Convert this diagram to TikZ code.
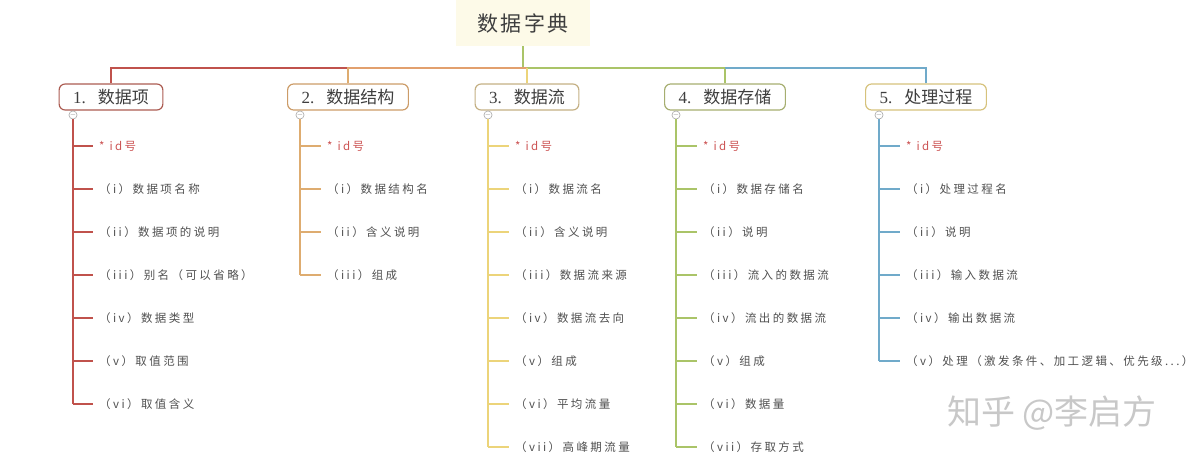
\documentclass[tikz,border=0pt]{standalone}
\usepackage{fontspec}
\setmainfont{Liberation Serif}
\newfontfamily\cjk{Noto Sans CJK SC}
\newfontfamily\cjkitem[LetterSpace=21]{Noto Sans CJK SC}
\newfontfamily\cjktitle[LetterSpace=12]{Noto Sans CJK SC}
\usepackage{tikz}
\usetikzlibrary{positioning}

\definecolor{RedLine}{RGB}{192,82,76}
\definecolor{OrangeLine}{RGB}{226,160,110}
\definecolor{TanLine}{RGB}{222,172,112}
\definecolor{YellowLine}{RGB}{236,212,122}
\definecolor{GreenLine}{RGB}{170,196,104}
\definecolor{BlueLine}{RGB}{112,170,202}
\definecolor{RootFill}{RGB}{253,250,232}
\definecolor{BoxRed}{RGB}{172,92,82}
\definecolor{BoxTan}{RGB}{204,156,104}
\definecolor{BoxSand}{RGB}{196,176,132}
\definecolor{BoxOlive}{RGB}{166,174,112}
\definecolor{BoxYellow}{RGB}{214,194,124}
\definecolor{ItemGray}{RGB}{80,80,80}
\definecolor{IdRed}{RGB}{204,84,84}
\definecolor{HeadGray}{RGB}{62,62,62}
\definecolor{MarkGray}{RGB}{200,200,200}

\begin{document}
\begin{tikzpicture}[x=1pt, y=-1pt]
			\tikzstyle{Root}	= [fill=RootFill, minimum width=134pt, minimum height=46pt, inner sep=0pt, text=HeadGray, font=\cjktitle\fontsize{21}{21}\selectfont]
			\tikzstyle{Head}	= [draw, fill=white, rounded corners=6pt, line width=1.2pt, minimum height=26pt, inner xsep=14pt, inner ysep=0pt, text=HeadGray, font=\fontsize{17}{17}\selectfont]
			\tikzstyle{Toggle}	= [circle, draw=gray!70, fill=white, line width=0.6pt, minimum size=8pt, inner sep=0pt, font=\fontsize{7}{7}\selectfont, text=gray]
			\tikzstyle{Item}	= [anchor=west, inner xsep=6pt, inner ysep=0pt, text=ItemGray, font=\cjkitem\fontsize{11.5}{11.5}\selectfont]
			\tikzstyle{ID}		= [Item, text=IdRed]
			\tikzstyle{Bus}		= [line width=2.6pt]
			\tikzstyle{Trunk}	= [line width=1.8pt]
			
			\useasboundingbox (0, 0) rectangle (1196, 464);
			
			% root and bus
			\node (root) at (523, 23) [Root] {数据字典};
			\coordinate (bus) at (0, 68);
			
			\node (b1) at (111, 97) [Head, draw=BoxRed] {1.\hspace{12pt}{\cjk 数据项}};
			\node (b2) at (348, 97) [Head, draw=BoxTan] {2.\hspace{12pt}{\cjk 数据结构}};
			\node (b3) at (527, 97) [Head, draw=BoxSand] {3.\hspace{12pt}{\cjk 数据流}};
			\node (b4) at (725, 97) [Head, draw=BoxOlive] {4.\hspace{12pt}{\cjk 数据存储}};
			\node (b5) at (926, 97) [Head, draw=BoxYellow] {5.\hspace{12pt}{\cjk 处理过程}};
			
			\draw [-] (root) to (root.south |- bus) [Bus][GreenLine];
			\draw [-] (b1) |- (b2.north |- bus) [Bus][RedLine];
			\draw [-] (b2) |- (b3.north |- bus) [Bus][OrangeLine];
			\draw [-] (b4) |- (b3.north |- bus) [Bus][GreenLine];
			\draw [-] (b5) |- (b4.north |- bus) [Bus][BlueLine];
			\draw [-] (b3) to (b3.north |- bus) [Bus][YellowLine];
			\draw [-] (b2) to (b2.north |- bus) [Bus][TanLine];
			
			% 1. data item
			\node (c1) at (73, 115) [Toggle] {$-$};
			\node (i1a) at (93, 146) [ID] {* id号};
			\node (i1b) at (93, 189) [Item] {（i）数据项名称};
			\node (i1c) at (93, 232) [Item] {（ii）数据项的说明};
			\node (i1d) at (93, 275) [Item] {（iii）别名（可以省略）};
			\node (i1e) at (93, 318) [Item] {（iv）数据类型};
			\node (i1f) at (93, 361) [Item] {（v）取值范围};
			\node (i1g) at (93, 404) [Item] {（vi）取值含义};
			
			\draw [-] (c1) to (c1.south |- i1g.west) [Trunk][RedLine];
			\draw [-] (c1.south |- i1a.west) to (i1a.west) [Trunk][RedLine];
			\draw [-] (c1.south |- i1b.west) to (i1b.west) [Trunk][RedLine];
			\draw [-] (c1.south |- i1c.west) to (i1c.west) [Trunk][RedLine];
			\draw [-] (c1.south |- i1d.west) to (i1d.west) [Trunk][RedLine];
			\draw [-] (c1.south |- i1e.west) to (i1e.west) [Trunk][RedLine];
			\draw [-] (c1.south |- i1f.west) to (i1f.west) [Trunk][RedLine];
			\draw [-] (c1.south |- i1g.west) to (i1g.west) [Trunk][RedLine];
			
			% 2. data structure
			\node (c2) at (300, 115) [Toggle] {$-$};
			\node (i2a) at (321, 146) [ID] {* id号};
			\node (i2b) at (321, 189) [Item] {（i）数据结构名};
			\node (i2c) at (321, 232) [Item] {（ii）含义说明};
			\node (i2d) at (321, 275) [Item] {（iii）组成};
			
			\draw [-] (c2) to (c2.south |- i2d.west) [Trunk][TanLine];
			\draw [-] (c2.south |- i2a.west) to (i2a.west) [Trunk][TanLine];
			\draw [-] (c2.south |- i2b.west) to (i2b.west) [Trunk][TanLine];
			\draw [-] (c2.south |- i2c.west) to (i2c.west) [Trunk][TanLine];
			\draw [-] (c2.south |- i2d.west) to (i2d.west) [Trunk][TanLine];
			
			% 3. data flow
			\node (c3) at (488, 115) [Toggle] {$-$};
			\node (i3a) at (509, 146) [ID] {* id号};
			\node (i3b) at (509, 189) [Item] {（i）数据流名};
			\node (i3c) at (509, 232) [Item] {（ii）含义说明};
			\node (i3d) at (509, 275) [Item] {（iii）数据流来源};
			\node (i3e) at (509, 318) [Item] {（iv）数据流去向};
			\node (i3f) at (509, 361) [Item] {（v）组成};
			\node (i3g) at (509, 404) [Item] {（vi）平均流量};
			\node (i3h) at (509, 447) [Item] {（vii）高峰期流量};
			
			\draw [-] (c3) to (c3.south |- i3h.west) [Trunk][YellowLine];
			\draw [-] (c3.south |- i3a.west) to (i3a.west) [Trunk][YellowLine];
			\draw [-] (c3.south |- i3b.west) to (i3b.west) [Trunk][YellowLine];
			\draw [-] (c3.south |- i3c.west) to (i3c.west) [Trunk][YellowLine];
			\draw [-] (c3.south |- i3d.west) to (i3d.west) [Trunk][YellowLine];
			\draw [-] (c3.south |- i3e.west) to (i3e.west) [Trunk][YellowLine];
			\draw [-] (c3.south |- i3f.west) to (i3f.west) [Trunk][YellowLine];
			\draw [-] (c3.south |- i3g.west) to (i3g.west) [Trunk][YellowLine];
			\draw [-] (c3.south |- i3h.west) to (i3h.west) [Trunk][YellowLine];
			
			% 4. data store
			\node (c4) at (676, 115) [Toggle] {$-$};
			\node (i4a) at (697, 146) [ID] {* id号};
			\node (i4b) at (697, 189) [Item] {（i）数据存储名};
			\node (i4c) at (697, 232) [Item] {（ii）说明};
			\node (i4d) at (697, 275) [Item] {（iii）流入的数据流};
			\node (i4e) at (697, 318) [Item] {（iv）流出的数据流};
			\node (i4f) at (697, 361) [Item] {（v）组成};
			\node (i4g) at (697, 404) [Item] {（vi）数据量};
			\node (i4h) at (697, 447) [Item] {（vii）存取方式};
			
			\draw [-] (c4) to (c4.south |- i4h.west) [Trunk][GreenLine];
			\draw [-] (c4.south |- i4a.west) to (i4a.west) [Trunk][GreenLine];
			\draw [-] (c4.south |- i4b.west) to (i4b.west) [Trunk][GreenLine];
			\draw [-] (c4.south |- i4c.west) to (i4c.west) [Trunk][GreenLine];
			\draw [-] (c4.south |- i4d.west) to (i4d.west) [Trunk][GreenLine];
			\draw [-] (c4.south |- i4e.west) to (i4e.west) [Trunk][GreenLine];
			\draw [-] (c4.south |- i4f.west) to (i4f.west) [Trunk][GreenLine];
			\draw [-] (c4.south |- i4g.west) to (i4g.west) [Trunk][GreenLine];
			\draw [-] (c4.south |- i4h.west) to (i4h.west) [Trunk][GreenLine];
			
			% 5. process
			\node (c5) at (879, 115) [Toggle] {$-$};
			\node (i5a) at (900, 146) [ID] {* id号};
			\node (i5b) at (900, 189) [Item] {（i）处理过程名};
			\node (i5c) at (900, 232) [Item] {（ii）说明};
			\node (i5d) at (900, 275) [Item] {（iii）输入数据流};
			\node (i5e) at (900, 318) [Item] {（iv）输出数据流};
			\node (i5f) at (900, 361) [Item] {（v）处理（激发条件、加工逻辑、优先级...）};
			
			\draw [-] (c5) to (c5.south |- i5f.west) [Trunk][BlueLine];
			\draw [-] (c5.south |- i5a.west) to (i5a.west) [Trunk][BlueLine];
			\draw [-] (c5.south |- i5b.west) to (i5b.west) [Trunk][BlueLine];
			\draw [-] (c5.south |- i5c.west) to (i5c.west) [Trunk][BlueLine];
			\draw [-] (c5.south |- i5d.west) to (i5d.west) [Trunk][BlueLine];
			\draw [-] (c5.south |- i5e.west) to (i5e.west) [Trunk][BlueLine];
			\draw [-] (c5.south |- i5f.west) to (i5f.west) [Trunk][BlueLine];
			
			% watermark
			\node (mark) at (1052, 413) [text=MarkGray, font=\cjk\fontsize{34}{34}\selectfont] {知乎 @李启方};
		\end{tikzpicture}
\end{document}
